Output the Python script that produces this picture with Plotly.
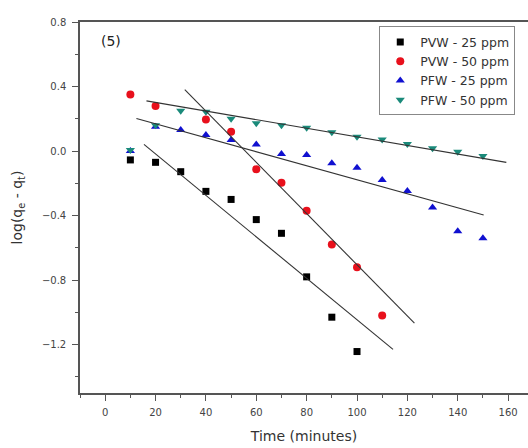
import plotly.graph_objects as go

# ---- data ----
pvw25_x = [10, 20, 30, 40, 50, 60, 70, 80, 90, 100]
pvw25_y = [-0.055, -0.07, -0.128, -0.25, -0.30, -0.425, -0.51, -0.78, -1.03, -1.243]

pvw50_x = [10, 20, 40, 50, 60, 70, 80, 90, 100, 110]
pvw50_y = [0.35, 0.28, 0.196, 0.12, -0.113, -0.196, -0.37, -0.58, -0.72, -1.02]

pfw25_x = [10, 20, 30, 40, 50, 60, 70, 80, 90, 100, 110, 120, 130, 140, 150]
pfw25_y = [0.0, 0.15, 0.13, 0.099, 0.068, 0.041, -0.019, -0.025, -0.076, -0.103,
           -0.18, -0.247, -0.35, -0.497, -0.54]

pfw50_x = [10, 20, 30, 40, 50, 60, 70, 80, 90, 100, 110, 120, 130, 140, 150]
pfw50_y = [0.006, 0.16, 0.25, 0.243, 0.2, 0.173, 0.16, 0.144, 0.117, 0.088,
           0.072, 0.043, 0.017, -0.004, -0.031]

# linear fits: slope, intercept, x-extent
fit_pvw25 = dict(slope=-0.01285, intercept=0.239, x=[15.4, 114.3])
fit_pvw50 = dict(slope=-0.01587, intercept=0.882, x=[31.6, 122.8])
fit_pfw25 = dict(slope=-0.00434, intercept=0.256, x=[12.4, 150.3])
fit_pfw50 = dict(slope=-0.00267, intercept=0.355, x=[16.4, 159.3])

names = ["PVW - 25 ppm", "PVW - 50 ppm", "PFW - 25 ppm", "PFW - 50 ppm"]
colors = ["#000000", "#e8101c", "#1010d0", "#1a8a7a"]
symbols = ["square", "circle", "triangle-up", "triangle-down"]
sizes = [7, 8, 8, 8]

FONT = "DejaVu Sans, Liberation Sans, sans-serif"

fig = go.Figure()

series = [(pvw25_x, pvw25_y), (pvw50_x, pvw50_y), (pfw25_x, pfw25_y), (pfw50_x, pfw50_y)]
for (xs, ys), n, c, s, sz in zip(series, names, colors, symbols, sizes):
    fig.add_trace(go.Scatter(x=xs, y=ys, mode="markers", name=n,
                             marker=dict(color=c, symbol=s, size=sz, line=dict(width=0))))

for f in [fit_pvw25, fit_pvw50, fit_pfw25, fit_pfw50]:
    xs = f["x"]
    ys = [f["slope"] * v + f["intercept"] for v in xs]
    fig.add_trace(go.Scatter(x=xs, y=ys, mode="lines", showlegend=False,
                             line=dict(color="#333333", width=1.1)))

fig.add_annotation(x=0.043, y=0.95, xref="paper", yref="paper", text="(5)",
                   showarrow=False, xanchor="left", yanchor="middle",
                   font=dict(size=14, color="#222222", family=FONT))

fig.update_layout(
    width=528, height=448,
    margin=dict(l=80, r=0, t=22, b=55),
    paper_bgcolor="white", plot_bgcolor="white",
    font=dict(family=FONT, color="#444444", size=10),
    legend=dict(x=0.668, y=0.988, xanchor="left", yanchor="top",
                bordercolor="#888888", borderwidth=1, bgcolor="white",
                font=dict(size=12.5, color="#333333", family=FONT), tracegroupgap=0,
                itemsizing="trace", itemwidth=30),
    showlegend=True,
)

fig.update_xaxes(range=[-10, 167.9], showgrid=False, zeroline=False,
                 showline=True, linecolor="#555555", linewidth=1.5, mirror=True,
                 ticks="outside", ticklen=6, tickcolor="#555555", tickwidth=1,
                 tick0=0, dtick=20, ticklabelstandoff=3,
                 minor=dict(ticks="outside", ticklen=3, dtick=10, tick0=0, tickcolor="#555555"),
                 tickfont=dict(size=10, color="#444444", family=FONT),
                 title=dict(text="Time (minutes)", font=dict(size=14, color="#333333", family=FONT), standoff=14))

fig.update_yaxes(range=[-1.5, 0.8], showgrid=False, zeroline=False,
                 showline=True, linecolor="#555555", linewidth=1.5, mirror=False,
                 ticks="outside", ticklen=6, tickcolor="#555555", tickwidth=1,
                 tick0=0, dtick=0.4, tickformat=".1f", ticklabelstandoff=4,
                 minor=dict(ticks="outside", ticklen=3, dtick=0.2, tick0=0, tickcolor="#555555"),
                 tickfont=dict(size=10, color="#444444", family=FONT),
                 title=dict(text="log(q<sub>e</sub> - q<sub>t</sub>)", font=dict(size=14, color="#333333", family=FONT), standoff=16))

fig.write_html("out.html")
